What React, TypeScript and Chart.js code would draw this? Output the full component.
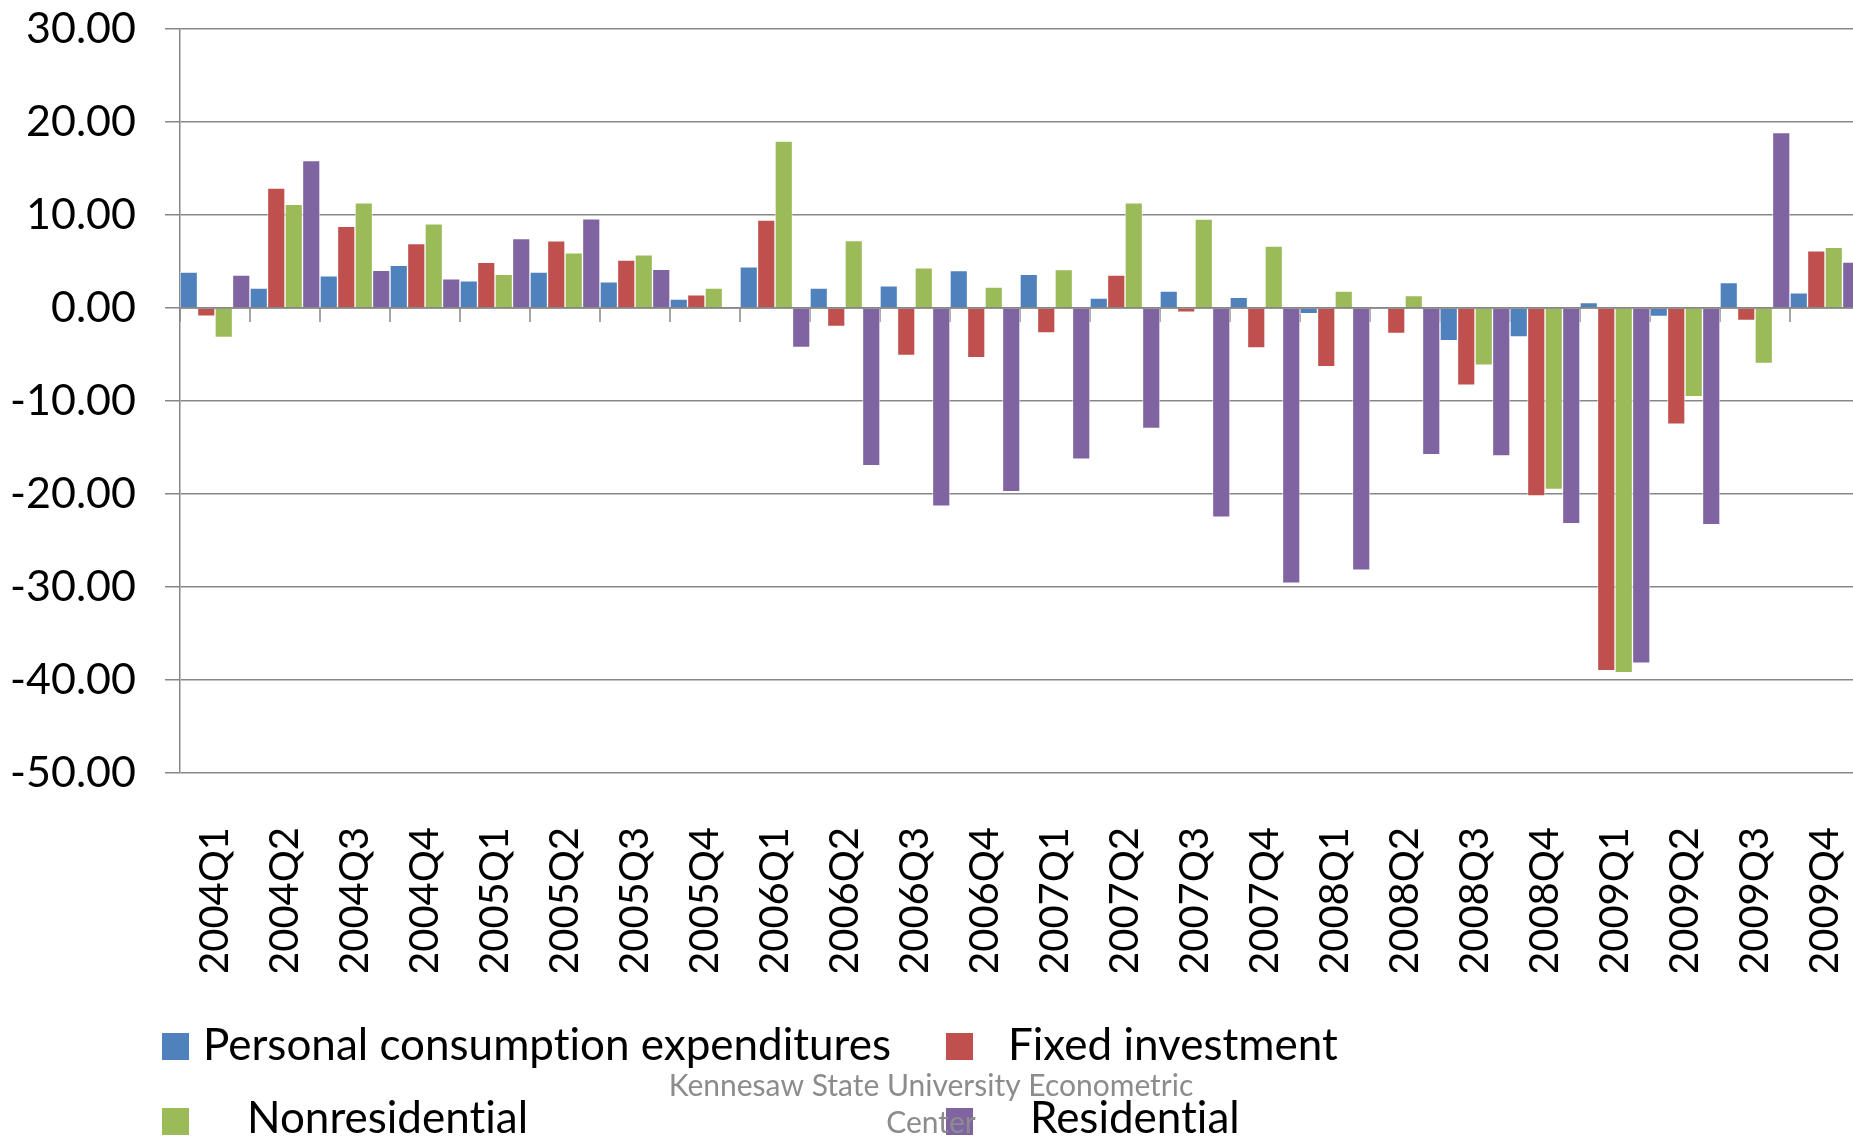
import React, { useEffect, useRef } from "react";
import { Chart, registerables } from "chart.js";

Chart.register(...registerables);

// ---------- data ----------
const categories = [
  "2004Q1", "2004Q2", "2004Q3", "2004Q4",
  "2005Q1", "2005Q2", "2005Q3", "2005Q4",
  "2006Q1", "2006Q2", "2006Q3", "2006Q4",
  "2007Q1", "2007Q2", "2007Q3", "2007Q4",
  "2008Q1", "2008Q2", "2008Q3", "2008Q4",
  "2009Q1", "2009Q2", "2009Q3", "2009Q4",
];

const personalConsumption = [
  3.85, 2.15, 3.46, 4.6,
  2.92, 3.85, 2.81, 0.96,
  4.44, 2.14, 2.39, 4.03,
  3.62, 1.07, 1.81, 1.15,
  -0.6, 0.0, -3.5, -3.12,
  0.58, -0.91, 2.73, 1.63,
];

const fixedInvestment = [
  -0.88, 12.9, 8.77, 6.92,
  4.92, 7.23, 5.15, 1.42,
  9.45, -1.98, -5.1, -5.35,
  -2.67, 3.54, -0.45, -4.28,
  -6.3, -2.73, -8.3, -20.2,
  -39.0, -12.5, -1.34, 6.14,
];

const nonresidential = [
  -3.15, 11.15, 11.3, 9.04,
  3.62, 5.92, 5.73, 2.15,
  17.94, 7.24, 4.32, 2.26,
  4.12, 11.32, 9.55, 6.67,
  1.82, 1.34, -6.14, -19.5,
  -39.2, -9.54, -5.95, 6.52,
];

const residential = [
  3.54, 15.85, 4.04, 3.15,
  7.46, 9.58, 4.15, 0.0,
  -4.24, -16.95, -21.3, -19.75,
  -16.26, -12.96, -22.5, -29.6,
  -28.2, -15.78, -15.9, -23.2,
  -38.2, -23.3, 18.85, 4.94,
];

const seriesNames = [
  "Personal consumption expenditures",
  "Fixed investment",
  "Nonresidential",
  "Residential",
];

const seriesColors = ["#4F81BD", "#C0504D", "#9BBB59", "#8064A2"];

const yMin = -50;
const yMax = 30;
const yStep = 10;

const sourceNoteLines = ["Kennesaw State University Econometric", "Center"];

// ---------- styling ----------
const W = 1853;
const H = 1140;
const CANVAS_W = 1860; // plot runs slightly past the visible right edge, as in the original
const GRID = "#878787";
const FONT = "Lato, 'Open Sans', sans-serif";

// category tick marks on the zero line, and zero line redrawn over bars
const zeroAxisPlugin = {
  id: "zeroAxis",
  beforeDatasetsDraw(chart: any) {
    const xs = chart.scales.x;
    const ys = chart.scales.y;
    const ctx = chart.ctx;
    const n = chart.data.labels.length;
    const y0 = ys.getPixelForValue(0);
    ctx.save();
    ctx.strokeStyle = GRID;
    ctx.lineWidth = 1.5;
    for (let i = 0; i <= n; i++) {
      const x = xs.left + (i * xs.width) / n;
      ctx.beginPath();
      ctx.moveTo(x, y0);
      ctx.lineTo(x, y0 + 14);
      ctx.stroke();
    }
    ctx.restore();
  },
  afterDatasetsDraw(chart: any) {
    const ys = chart.scales.y;
    const ca = chart.chartArea;
    const ctx = chart.ctx;
    const y0 = ys.getPixelForValue(0);
    ctx.save();
    ctx.strokeStyle = GRID;
    ctx.lineWidth = 1.5;
    ctx.beginPath();
    ctx.moveTo(ca.left, y0);
    ctx.lineTo(ca.right, y0);
    ctx.stroke();
    ctx.restore();
  },
};

// Excel-like legend with the source note overlapping it
const legendPlugin = {
  id: "excelLegend",
  afterDraw(chart: any) {
    const ctx = chart.ctx;
    const ds = chart.data.datasets;
    const slots = [
      { bx: 162, by: 1033, tx: 203, ty: 1060 },
      { bx: 946, by: 1033, tx: 1008, ty: 1060 },
      { bx: 162, by: 1108, tx: 247, ty: 1133 },
      { bx: 946, by: 1108, tx: 1030, ty: 1133 },
    ];
    ctx.save();
    try {
      (ctx as any).textRendering = "optimizeSpeed";
    } catch (e) {}
    ctx.textBaseline = "alphabetic";
    ctx.textAlign = "left";
    ctx.font = `44px ${FONT}`;
    ds.forEach((d: any, i: number) => {
      const s = slots[i];
      ctx.fillStyle = d.backgroundColor;
      ctx.fillRect(s.bx, s.by, 27, 27);
      ctx.fillStyle = "#000";
      ctx.fillText(d.label, s.tx, s.ty);
    });
    ctx.font = `30px ${FONT}`;
    ctx.fillStyle = "#8c8c8c";
    ctx.textAlign = "center";
    ctx.fillText(sourceNoteLines[0], 931, 1096);
    ctx.fillText(sourceNoteLines[1], 931, 1133);
    ctx.restore();
  },
};

export default function App() {
  const canvasRef = useRef<HTMLCanvasElement | null>(null);

  useEffect(() => {
    const canvas = canvasRef.current;
    if (!canvas) return;
    const values = [personalConsumption, fixedInvestment, nonresidential, residential];
    const chart = new Chart(canvas, {
      type: "bar",
      data: {
        labels: categories,
        datasets: values.map((v, i) => ({
          label: seriesNames[i],
          data: v,
          backgroundColor: seriesColors[i],
          borderColor: "rgba(255,255,255,0.55)",
          borderWidth: 1,
          categoryPercentage: 1,
          barPercentage: 1,
        })),
      },
      options: {
        responsive: false,
        animation: false,
        devicePixelRatio: 1,
        layout: { padding: { top: 29, left: 0, right: 0, bottom: 168 } },
        plugins: {
          legend: { display: false },
          tooltip: { enabled: false },
          title: { display: false },
        },
        scales: {
          x: {
            position: "bottom",
            grid: { display: false },
            border: { display: false },
            ticks: {
              autoSkip: false,
              maxRotation: 90,
              minRotation: 90,
              padding: 46,
              color: "#000",
              font: { family: FONT, size: 40 },
            },
            afterFit: (scale: any) => {
              scale.height = 199;
              scale.paddingLeft = 0;
              scale.paddingRight = 0;
            },
          },
          y: {
            min: yMin,
            max: yMax,
            ticks: {
              stepSize: yStep,
              padding: 29,
              color: "#000",
              font: { family: FONT, size: 43 },
              callback: (v: any) => Number(v).toFixed(2),
            },
            grid: {
              color: GRID,
              lineWidth: 1.5,
              tickLength: 15,
              drawTicks: true,
            },
            border: { display: true, color: GRID, width: 1.5 },
            afterFit: (scale: any) => {
              scale.width = 180;
              scale.paddingTop = 0;
              scale.paddingBottom = 0;
            },
          },
        },
      },
      plugins: [zeroAxisPlugin, legendPlugin],
    });
    return () => chart.destroy();
  }, []);

  return (
    <div
      style={{
        position: "fixed",
        left: 0,
        top: 0,
        width: W,
        height: H,
        overflow: "hidden",
        background: "#fff",
      }}
    >
      <canvas
        ref={canvasRef}
        width={CANVAS_W}
        height={H}
        style={{ width: CANVAS_W, height: H, display: "block" }}
      />
    </div>
  );
}
